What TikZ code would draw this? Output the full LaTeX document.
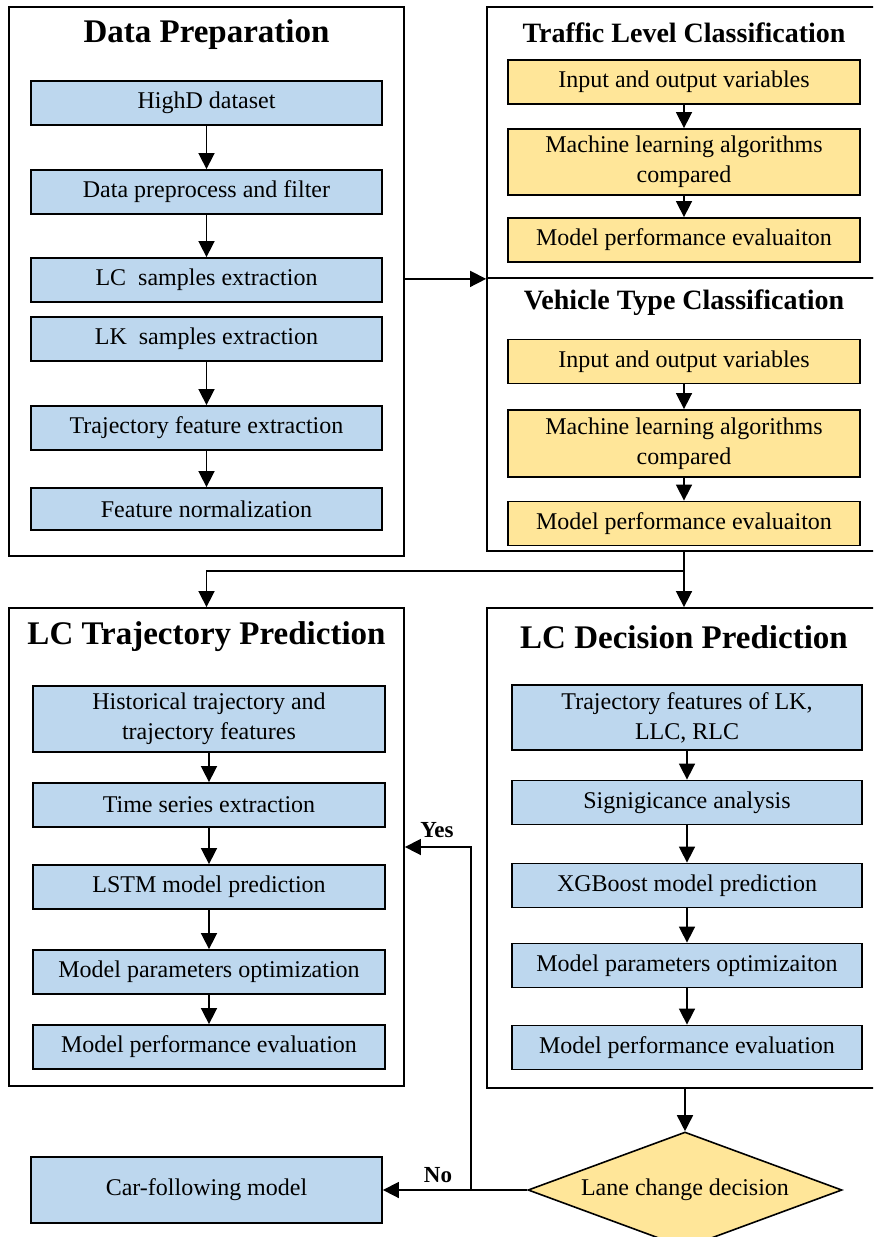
\documentclass[tikz,border=0pt]{standalone}
\usepackage{fontspec}
\setmainfont{Liberation Serif}
\usetikzlibrary{arrows.meta,shapes.geometric}

\definecolor{boxblue}{RGB}{189,215,238}
\definecolor{boxyellow}{RGB}{255,230,153}

\tikzset{
  frame/.style={draw, line width=1.8pt, inner sep=0pt},
  bluebox/.style={draw, fill=boxblue, line width=1.8pt, minimum width=351pt,
    minimum height=44pt, inner sep=0pt, align=center, font=\fontsize{24}{30}\selectfont},
  yellowbox/.style={bluebox, fill=boxyellow},
  bigtitle/.style={font=\fontsize{33}{40}\selectfont\bfseries},
  subtitle/.style={font=\fontsize{28}{34}\selectfont\bfseries},
  lbl/.style={font=\fontsize{23}{28}\selectfont\bfseries},
  arr/.style={-{Triangle[length=16pt,width=16pt]}, line width=1.6pt},
}

\begin{document}
\begin{tikzpicture}[x=1pt,y=-1pt]
    \useasboundingbox (0,0) rectangle (873,1237);
    \clip (0,0) rectangle (873,1237);

    % data preparation
    \node[frame, minimum width=395pt, minimum height=549pt] (prep) at (206.5,281.5) {};
    \node[bigtitle] (prept) at (206.5,35) {Data Preparation};
    \node[bluebox] (highd) at (206.5,103) {HighD dataset};
    \node[bluebox] (filt) at (206.5,192) {Data preprocess and filter};
    \node[bluebox] (lcs) at (206.5,280) {LC\ \ samples extraction};
    \node[bluebox] (lks) at (206.5,339) {LK\ \ samples extraction};
    \node[bluebox] (trajx) at (206.5,428) {Trajectory feature extraction};
    \node[bluebox, minimum height=42pt] (norm) at (206.5,509) {Feature normalization};

    \draw[arr] (highd) -- (filt);
    \draw[arr] (filt) -- (lcs);
    \draw[arr] (lks) -- (trajx);
    \draw[arr] (trajx) -- (norm);

    % classification
    \node[frame, minimum width=388pt, minimum height=271pt] (tlc) at (681,142.5) {};
    \node[frame, minimum width=388pt, minimum height=273pt] (vtc) at (681,414.5) {};
    \node[subtitle] (tlct) at (684,33) {Traffic Level Classification};
    \node[subtitle] (vtct) at (684,303) {Vehicle Type Classification};

    \node[yellowbox, minimum width=352pt] (tin) at (684,82) {Input and output variables};
    \node[yellowbox, minimum width=352pt, minimum height=66pt] (tml) at (684,162) {Machine learning algorithms\\compared};
    \node[yellowbox, minimum width=352pt] (tev) at (684,240) {Model performance evaluaiton};

    \node[yellowbox, minimum width=352pt] (vin) at (684,361.5) {Input and output variables};
    \node[yellowbox, minimum width=352pt, minimum height=67pt] (vml) at (684,443.5) {Machine learning algorithms\\compared};
    \node[yellowbox, minimum width=352pt] (vev) at (684,523.5) {Model performance evaluaiton};

    \draw[arr] (tin) -- (tml);
    \draw[arr] (tml) -- (tev);
    \draw[arr] (vin) -- (vml);
    \draw[arr] (vml) -- (vev);

    \draw[arr] (prep.east |- tlc.south) -- (tlc.south west);

    % prediction
    \node[frame, minimum width=395pt, minimum height=478pt] (lct) at (206.5,847) {};
    \node[frame, minimum width=388pt, minimum height=480pt] (lcd) at (681,848) {};
    \node[bigtitle] (lctt) at (206.5,637) {LC Trajectory Prediction};
    \node[bigtitle] (lcdt) at (684,637) {LC Decision Prediction};

    \node[bluebox, minimum width=352pt, minimum height=66pt] (hist) at (209,719) {Historical trajectory and\\trajectory features};
    \node[bluebox, minimum width=352pt] (tse) at (209,805) {Time series extraction};
    \node[bluebox, minimum width=352pt] (lstm) at (209,887) {LSTM model prediction};
    \node[bluebox, minimum width=352pt] (mpo) at (209,972) {Model parameters optimization};
    \node[bluebox, minimum width=352pt] (mpe) at (209,1047) {Model performance evaluation};

    \node[bluebox, minimum width=350pt, minimum height=65pt] (tfe) at (687,717.5) {Trajectory features of LK,\\LLC, RLC};
    \node[bluebox, minimum width=350pt] (sig) at (687,802.5) {Signigicance analysis};
    \node[bluebox, minimum width=350pt] (xgb) at (687,885.5) {XGBoost model prediction};
    \node[bluebox, minimum width=350pt] (mpo2) at (687,965.5) {Model parameters optimizaiton};
    \node[bluebox, minimum width=350pt] (mpe2) at (687,1047.5) {Model performance evaluation};

    \draw[arr] (hist) -- (tse);
    \draw[arr] (tse) -- (lstm);
    \draw[arr] (lstm) -- (mpo);
    \draw[arr] (mpo) -- (mpe);
    \draw[arr] (tfe) -- (sig);
    \draw[arr] (sig) -- (xgb);
    \draw[arr] (xgb) -- (mpo2);
    \draw[arr] (mpo2) -- (mpe2);

    \coordinate (split) at (684,571);
    \draw[line width=1.6pt] (split |- vtc.south) -- (split);
    \draw[arr] (split) -- (split |- lcd.north);
    \draw[arr] (split) -| (lct.north);

    % decision
    \node[diamond, aspect=2.7, draw, fill=boxyellow, line width=1.6pt, minimum width=314pt, minimum height=116pt,
      inner sep=0pt, font=\fontsize{24}{30}\selectfont] (lcdec) at (685,1190) {Lane change decision};
    \node[bluebox, minimum height=66pt] (carf) at (206.5,1190) {Car-following model};

    \draw[arr] (lcdec.north |- lcd.south) -- (lcdec.north);
    \draw[arr] (lcdec.west) -- (carf.east);
    \coordinate (fork) at (471,1190);
    \draw[arr] (fork) |- (lct.east);
    \node[lbl] (yes) at (437,830) {Yes};
    \node[lbl] (no) at (438,1175) {No};
\end{tikzpicture}
\end{document}
